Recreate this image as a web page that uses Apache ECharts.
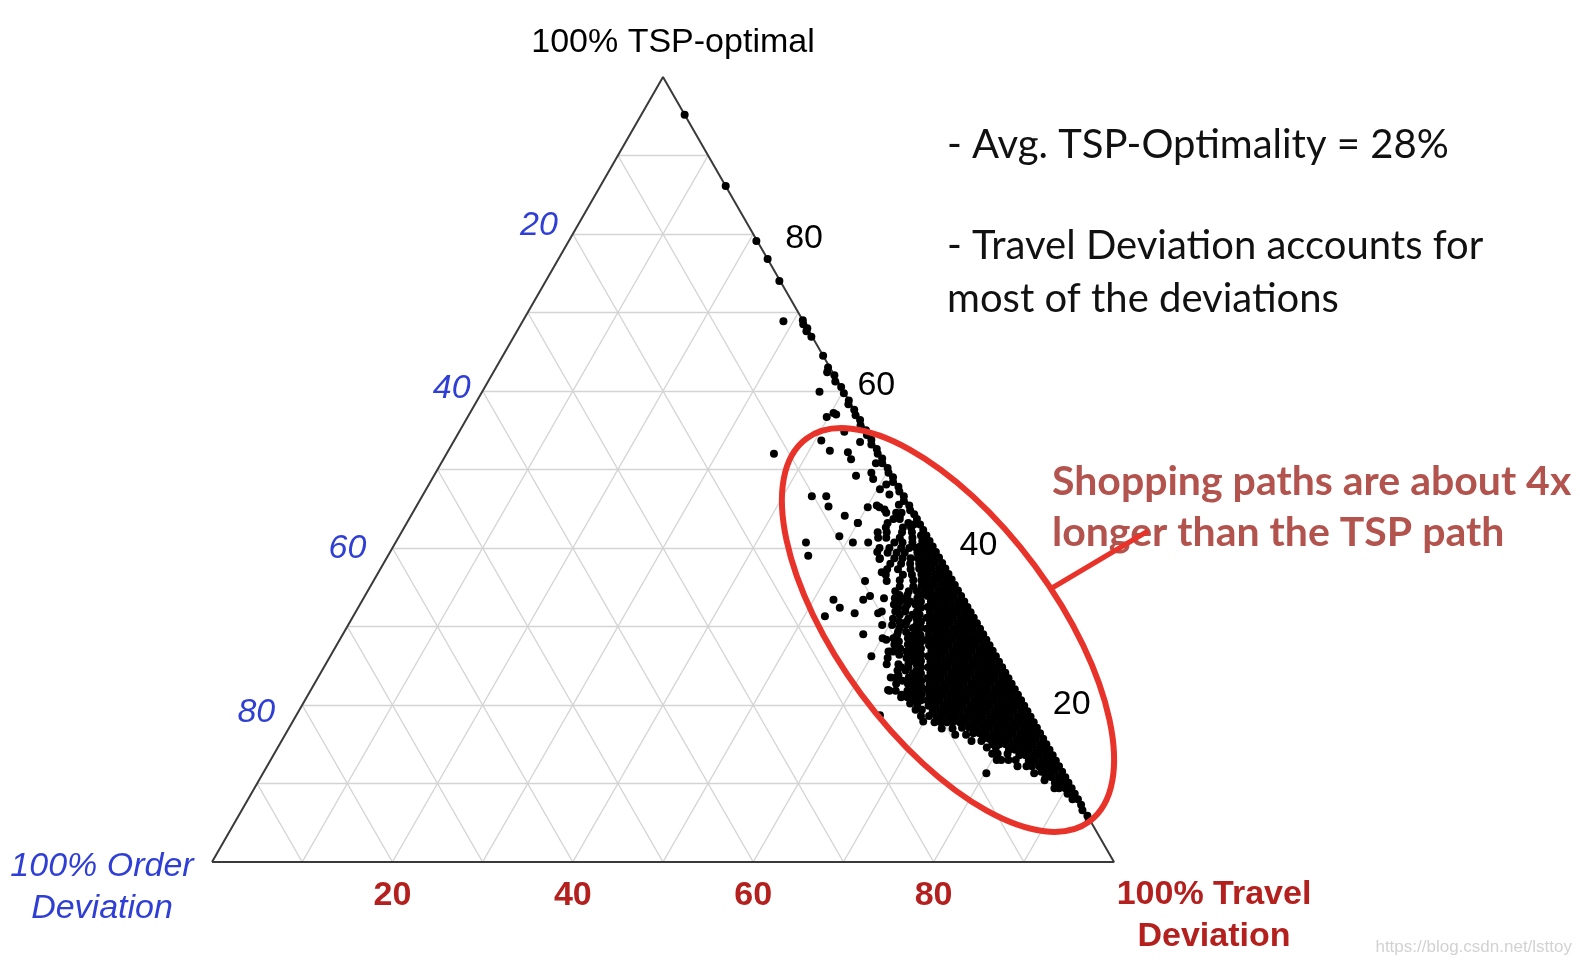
<!DOCTYPE html>
<html>
<head>
<meta charset="utf-8">
<title>Shopping path deviations - ternary plot</title>
<script src="https://cdn.jsdelivr.net/npm/echarts@6/dist/echarts.min.js"></script>
<style>
  html, body { margin: 0; padding: 0; background: #fff; }
  #main { width: 1580px; height: 964px; }
</style>
</head>
<body>
<div id="main"></div>
<script>
// every point is [TSP-optimal %, Order deviation %]; travel deviation = 100 - both

// dots sitting on the right edge (order deviation ~ 0)
const edgeTrail = [
  [95.2, 0], [86.1, 0], [79.1, 0.1], [76.8, 0], [74.0, 0.1], [69.0, 0], [68.5, 0.2], [68.0, 0],
  [67.6, 0.3], [66.9, 0.1], [64.5, 0], [63.0, 0.2], [62.4, 0.6], [62.0, 0], [61.2, 0.3], [60.5, 0],
  [59.7, 0.1], [58.8, 0], [58.3, 0.3], [57.6, 0], [56.9, 0.2], [56.3, 0], [55.6, 0.3], [55.0, 0],
  [54.4, 0.2], [53.8, 0], [53.2, 0.3], [52.6, 0], [52.0, 0.2], [51.4, 0], [50.8, 0.3], [50.2, 0],
  [49.6, 0.2], [49.0, 0], [48.4, 0.3], [47.8, 0], [47.2, 0.2], [46.6, 0], [46.0, 0.3], [45.4, 0],
  [44.8, 0.2], [44.3, 0], [7.3, 0], [6.6, 0.2], [5.9, 0], [5.4, 0.1]
]

// the solid black mass, row by row: [TSP, [order values]]
const coreRows = [
  [8.0, [0, 0.6]], [8.7, [0, 0.8]], [9.4, [0, 0.7, 1.4]], [10.1, [0, 0.8, 1.5]],
  [10.8, [0, 0.7, 1.5, 2.2]], [11.5, [0, 0.8, 1.5, 2.3]], [12.2, [0, 0.7, 1.5, 2.2, 3.0]],
  [12.9, [0, 0.8, 1.5, 2.3, 3.0]], [13.6, [0, 0.7, 1.5, 2.2, 3.0, 3.7]],
  [14.3, [0, 0.8, 1.5, 2.3, 3.0, 3.8, 4.5]],
  [15.0, [0, 0.7, 1.5, 2.2, 3.0, 3.7, 4.5, 5.2, 6.0]],
  [15.7, [0, 0.8, 1.5, 2.3, 3.0, 3.8, 4.5, 5.3, 6.0, 6.7]],
  [16.4, [0, 0.7, 1.5, 2.2, 3.0, 3.7, 4.5, 5.2, 6.0, 6.7, 7.4]],
  [17.1, [0, 0.8, 1.5, 2.3, 3.0, 3.8, 4.5, 5.3, 6.0, 6.8, 7.5, 8.3]],
  [17.8, [0, 0.7, 1.5, 2.2, 3.0, 3.7, 4.5, 5.2, 6.0, 6.7, 7.5, 8.2, 9.0, 9.6]],
  [18.5, [0, 0.8, 1.5, 2.3, 3.0, 3.8, 4.5, 5.3, 6.0, 6.8, 7.5, 8.3, 9.0, 9.8, 10.4]],
  [19.2, [0, 0.7, 1.5, 2.2, 3.0, 3.7, 4.5, 5.2, 6.0, 6.7, 7.5, 8.2, 9.0, 9.7, 10.5]],
  [19.9, [0, 0.8, 1.5, 2.3, 3.0, 3.8, 4.5, 5.3, 6.0, 6.8, 7.5, 8.3, 9.0, 9.8, 10.6]],
  [20.6, [0, 0.7, 1.5, 2.2, 3.0, 3.7, 4.5, 5.2, 6.0, 6.7, 7.5, 8.2, 9.0, 9.7, 10.4]],
  [21.3, [0, 0.8, 1.5, 2.3, 3.0, 3.8, 4.5, 5.3, 6.0, 6.8, 7.5, 8.3, 9.0, 9.8]],
  [22.0, [0, 0.7, 1.5, 2.2, 3.0, 3.7, 4.5, 5.2, 6.0, 6.7, 7.5, 8.2, 9.0, 9.7]],
  [22.7, [0, 0.8, 1.5, 2.3, 3.0, 3.8, 4.5, 5.3, 6.0, 6.8, 7.5, 8.3, 9.1]],
  [23.4, [0, 0.7, 1.5, 2.2, 3.0, 3.7, 4.5, 5.2, 6.0, 6.7, 7.5, 8.2, 9.0]],
  [24.1, [0, 0.8, 1.5, 2.3, 3.0, 3.8, 4.5, 5.3, 6.0, 6.8, 7.5, 8.3]],
  [24.8, [0, 0.7, 1.5, 2.2, 3.0, 3.7, 4.5, 5.2, 6.0, 6.7, 7.5, 8.2]],
  [25.5, [0, 0.8, 1.5, 2.3, 3.0, 3.8, 4.5, 5.3, 6.0, 6.8, 7.6]],
  [26.2, [0, 0.7, 1.5, 2.2, 3.0, 3.7, 4.5, 5.2, 6.0, 6.7, 7.5]],
  [26.9, [0, 0.8, 1.5, 2.3, 3.0, 3.8, 4.5, 5.3, 6.0, 6.8]],
  [27.6, [0, 0.7, 1.5, 2.2, 3.0, 3.7, 4.5, 5.2, 6.0, 6.7]],
  [28.3, [0, 0.8, 1.5, 2.3, 3.0, 3.8, 4.5, 5.3, 6.0, 6.6]],
  [29.0, [0, 0.7, 1.5, 2.2, 3.0, 3.7, 4.5, 5.2, 6.0]],
  [29.7, [0, 0.8, 1.5, 2.3, 3.0, 3.8, 4.5, 5.3, 5.9]],
  [30.4, [0, 0.7, 1.5, 2.2, 3.0, 3.7, 4.5, 5.2]],
  [31.1, [0, 0.8, 1.5, 2.3, 3.0, 3.8, 4.5, 5.2]],
  [31.8, [0, 0.7, 1.5, 2.2, 3.0, 3.7, 4.5]],
  [32.5, [0, 0.8, 1.5, 2.3, 3.0, 3.8, 4.4]],
  [33.2, [0, 0.7, 1.5, 2.2, 3.0, 3.7]],
  [33.9, [0, 0.8, 1.5, 2.3, 3.0, 3.7]],
  [34.6, [0, 0.7, 1.5, 2.2, 3.0, 3.7]],
  [35.3, [0, 0.8, 1.5, 2.3, 3.0, 3.6]],
  [36.0, [0, 0.7, 1.5, 2.2, 3.0]], [36.7, [0, 0.8, 1.5, 2.3, 3.0]], [37.4, [0, 0.7, 1.5, 2.2, 2.9]],
  [38.1, [0, 0.8, 1.5, 2.3]], [38.8, [0, 0.7, 1.4, 2.2]], [39.5, [0, 0.8, 1.5]], [40.2, [0, 0.7, 1.4]],
  [40.9, [0, 0.8]], [41.6, [0, 0.6]], [42.3, [0]], [43.0, [0, 0.7]], [43.7, [0]]
]

// looser dots around the left side of the mass
const fringeRows = [
  [44.5, [1.3, 1.9, 3.0]], [43.7, [1.9, 2.6]], [43.2, [1.2, 3.5, 6.8]], [42.6, [1.2, 2.1, 4.0]],
  [42.0, [1.4, 2.5, 4.2, 5.2]], [41.3, [1.7, 3.1, 4.6, 5.5]], [40.7, [2.0, 3.1, 4.0, 6.9, 8.6]],
  [40.0, [1.9, 2.7, 3.6, 4.9, 6.0]], [39.4, [2.1, 3.5, 4.4, 5.4]], [38.7, [2.4, 3.2, 4.1, 5.0, 6.6]],
  [38.0, [2.6, 3.6, 4.6, 5.8]], [37.3, [2.8, 3.9, 5.3, 6.5]], [36.6, [3.0, 4.1, 5.1, 7.0]],
  [35.9, [3.4, 4.3, 5.8]], [35.1, [3.8, 4.7, 6.2]],
  [34.5, [4.6, 5.5, 7.0]], [34.0, [4.3, 5.9, 6.8]], [33.6, [5.0, 6.3, 7.5, 8.7]],
  [33.2, [4.8, 6.0, 7.1]], [32.8, [5.6, 6.5, 8.0]], [32.4, [5.2, 6.9, 7.7]],
  [31.9, [5.9, 7.2, 8.3, 9.8]], [31.5, [5.8, 6.6, 8.0]], [31.0, [6.4, 7.3, 9.0]],
  [30.6, [6.1, 7.7, 8.5]], [30.2, [6.8, 8.0, 9.5, 10.6]], [29.8, [6.5, 7.4, 8.9]],
  [29.3, [7.2, 8.4, 9.3]], [28.9, [7.0, 7.9, 9.6]], [28.5, [7.6, 8.6, 10.2, 11.4]],
  [28.1, [7.3, 8.3, 9.8]], [27.7, [8.1, 9.0, 10.5]], [27.2, [7.8, 8.7, 10.1]],
  [26.8, [8.4, 9.6, 11.0, 11.6]], [26.4, [8.2, 9.2, 10.6]], [26.0, [8.9, 10.0, 12.1]],
  [25.6, [8.6, 9.7]], [25.2, [9.3, 10.2, 11.3, 12.6]], [24.8, [9.0, 10.4, 11.2]],
  [24.4, [9.7, 10.9, 11.8]], [24.0, [9.4, 10.3]], [23.5, [10.1, 11.0, 12.4, 13.0]],
  [23.1, [9.8, 10.7, 11.9]], [22.7, [10.4, 11.5, 12.8]], [22.3, [10.2, 11.1]],
  [21.8, [10.9, 12.0, 13.3, 14.0]], [21.4, [10.6, 11.6]], [21.0, [11.3, 12.4, 13.1]],
  [20.6, [11.1, 12.0]], [20.2, [11.7, 12.5]],
  [19.4, [11.6, 12.3]], [18.6, [11.2, 12.1]], [17.8, [10.3, 11.0]], [17.0, [9.4, 10.6]],
  [16.2, [8.3, 9.5]], [15.4, [7.0, 8.1]], [14.6, [5.8, 6.8]], [13.8, [4.9, 6.0, 6.6]],
  [13.0, [4.4, 5.2, 6.5]], [12.2, [3.6, 4.6]], [11.3, [3.2]], [10.4, [2.5]], [9.4, [1.9]]
]

// isolated dots
const outliers = [
  [68.9, 2.2], [59.9, 2.7], [57.0, 2.3], [56.7, 3.5], [57.2, 2.5], [53.7, 5.6], [52.4, 5.3],
  [52.0, 11.7], [54.8, 2.5], [53.5, 1.4], [52.2, 3.4], [51.3, 3.5], [49.2, 4.0], [49.6, 2.1],
  [48.8, 2.3], [47.5, 2.2], [46.6, 10.2], [46.6, 8.6], [45.3, 9.0], [44.1, 7.8], [43.2, 6.8],
  [45.2, 4.7], [45.2, 3.4], [44.9, 3.0], [45.4, 3.6], [44.1, 1.7], [50.8, 1.0], [48.1, 1.2],
  [46.8, 1.5], [45.5, 1.1], [41.5, 9.7], [40.7, 13.8], [39.0, 14.4], [36.9, 7.3], [35.8, 7.3],
  [35.8, 9.7], [33.4, 14.4], [32.4, 14.2], [31.3, 16.4], [31.7, 12.9], [33.4, 11.1], [33.9, 10.1],
  [31.7, 10.3], [29.0, 13.3], [26.2, 13.8], [28.3, 11.1], [26.8, 11.3], [23.8, 12.0], [21.9, 14.1],
  [21.3, 12.9], [18.7, 16.6], [17.9, 12.2], [11.3, 8.5], [39.5, 6.5], [38.6, 6.7], [13.0, 6.0]
]

const gridSteps = [10, 20, 30, 40, 50, 60, 70, 80, 90]
const leftTicks = [20, 40, 60, 80]    // order deviation, read down the left side
const rightTicks = [80, 60, 40, 20]   // TSP-optimal, read down the right side
const bottomTicks = [20, 40, 60, 80]  // travel deviation along the base

// hand nudges for the tick labels, in px (same order as the tick arrays)
const leftNudge = [[6, -8], [9, -2], [-5, 1], [-6, 8]]
const rightNudge = [[6, 5], [-12, -5], [0, -2], [3, 0]]

const H = Math.sqrt(3) / 2
// ternary (tsp, order) -> plane, x 0..100 / y 0..86.6
function toXY(tsp, order) {
  return [100 - order - tsp / 2, tsp * H]
}

const points = []
edgeTrail.concat(outliers).forEach(p => points.push(toXY(p[0], p[1])))
coreRows.concat(fringeRows).forEach(row => {
  row[1].forEach(o => points.push(toXY(row[0], o)))
})

const gridLines = []
gridSteps.forEach(s => {
  gridLines.push({ coords: [toXY(s, 100 - s), toXY(s, 0)] })      // constant TSP
  gridLines.push({ coords: [toXY(0, s), toXY(100 - s, s)] })      // constant order
  gridLines.push({ coords: [toXY(0, 100 - s), toXY(100 - s, 0)] }) // constant travel
})
const outline = [toXY(0, 100), toXY(0, 0), toXY(100, 0), toXY(0, 100)]

const ARIAL = '"Liberation Sans", Arial, sans-serif'
const LATO = 'Lato, "Open Sans", sans-serif'
const RED = '#b3201d'
const BLUE = '#2f3fd6'

const chart = echarts.init(document.getElementById('main'))
const option = {
  animation: false,
  backgroundColor: '#fff',
  grid: { left: 212, top: 77, width: 902, height: 785 },
  xAxis: {
    type: 'value', min: 0, max: 100, interval: 20,
    axisLine: { show: false }, axisTick: { show: false }, splitLine: { show: false },
    axisLabel: {
      margin: 17,
      color: RED, fontSize: 34, fontWeight: 'bold', fontFamily: ARIAL,
      formatter: v => (bottomTicks.indexOf(v) >= 0 ? String(v) : '')
    }
  },
  yAxis: { type: 'value', min: 0, max: 100 * H, show: false },
  series: [
    {
      type: 'lines', coordinateSystem: 'cartesian2d', silent: true, z: 1,
      lineStyle: { color: '#d4d4d4', width: 1.4, opacity: 1 },
      data: gridLines
    },
    {
      type: 'line', data: outline, showSymbol: false, silent: true, z: 2,
      lineStyle: { color: '#3a3a3a', width: 2 }
    },
    {
      type: 'scatter', data: points, symbolSize: 8, silent: true, z: 3,
      itemStyle: { color: '#000', opacity: 1 }
    },
    {
      type: 'scatter', symbolSize: 0, silent: true, z: 4,
      itemStyle: { opacity: 1 },
      data: rightTicks.map((v, i) => ({
        value: toXY(v, 0), name: String(v), label: { offset: rightNudge[i] }
      })),
      label: {
        show: true, position: 'right', distance: 26, formatter: '{b}',
        color: '#000', fontSize: 34, fontFamily: ARIAL
      }
    },
    {
      type: 'scatter', symbolSize: 0, silent: true, z: 4,
      itemStyle: { opacity: 1 },
      data: leftTicks.map((v, i) => ({
        value: toXY(100 - v, v), name: String(v), label: { offset: leftNudge[i] }
      })),
      label: {
        show: true, position: 'left', distance: 21, formatter: '{b}',
        color: BLUE, fontSize: 34, fontStyle: 'italic', fontFamily: ARIAL
      }
    }
  ],
  graphic: [
    {
      type: 'text', x: 673, y: 43,
      style: { text: '100% TSP-optimal', fill: '#000', font: '34px ' + ARIAL, align: 'center', verticalAlign: 'middle' }
    },
    {
      type: 'text', x: 102, y: 888,
      style: {
        text: '100% Order\nDeviation', fill: BLUE, font: 'italic 34px ' + ARIAL,
        align: 'center', verticalAlign: 'middle', lineHeight: 42
      }
    },
    {
      type: 'text', x: 1214, y: 916,
      style: {
        text: '100% Travel\nDeviation', fill: RED, font: 'bold 34px ' + ARIAL,
        align: 'center', verticalAlign: 'middle', lineHeight: 42
      }
    },
    {
      type: 'text', x: 947, y: 145,
      style: { text: '- Avg. TSP-Optimality = 28%', fill: '#111', font: '40px ' + LATO, verticalAlign: 'middle' }
    },
    {
      type: 'text', x: 947, y: 273,
      style: {
        text: '- Travel Deviation accounts for\nmost of the deviations', fill: '#111',
        font: '40px ' + LATO, verticalAlign: 'middle', lineHeight: 53
      }
    },
    {
      type: 'text', x: 1052, y: 507,
      style: {
        text: 'Shopping paths are about 4x\nlonger than the TSP path', fill: '#b3534e',
        font: 'bold 41px ' + LATO, verticalAlign: 'middle', lineHeight: 51
      }
    },
    {
      type: 'ellipse', x: 948, y: 630, rotation: -53.5 * Math.PI / 180, z: 10,
      shape: { cx: 0, cy: 0, rx: 238, ry: 108 },
      style: { fill: 'none', stroke: '#e8332a', lineWidth: 6 }
    },
    {
      type: 'line', z: 10,
      shape: { x1: 1052, y1: 588, x2: 1148, y2: 531 },
      style: { stroke: '#e8332a', lineWidth: 5 }
    },
    {
      type: 'text', x: 1572, y: 947,
      style: { text: 'https://blog.csdn.net/lsttoy', fill: '#d2d2d2', font: '17px ' + ARIAL, align: 'right', verticalAlign: 'middle' }
    }
  ]
}
chart.setOption(option)
</script>
</body>
</html>
